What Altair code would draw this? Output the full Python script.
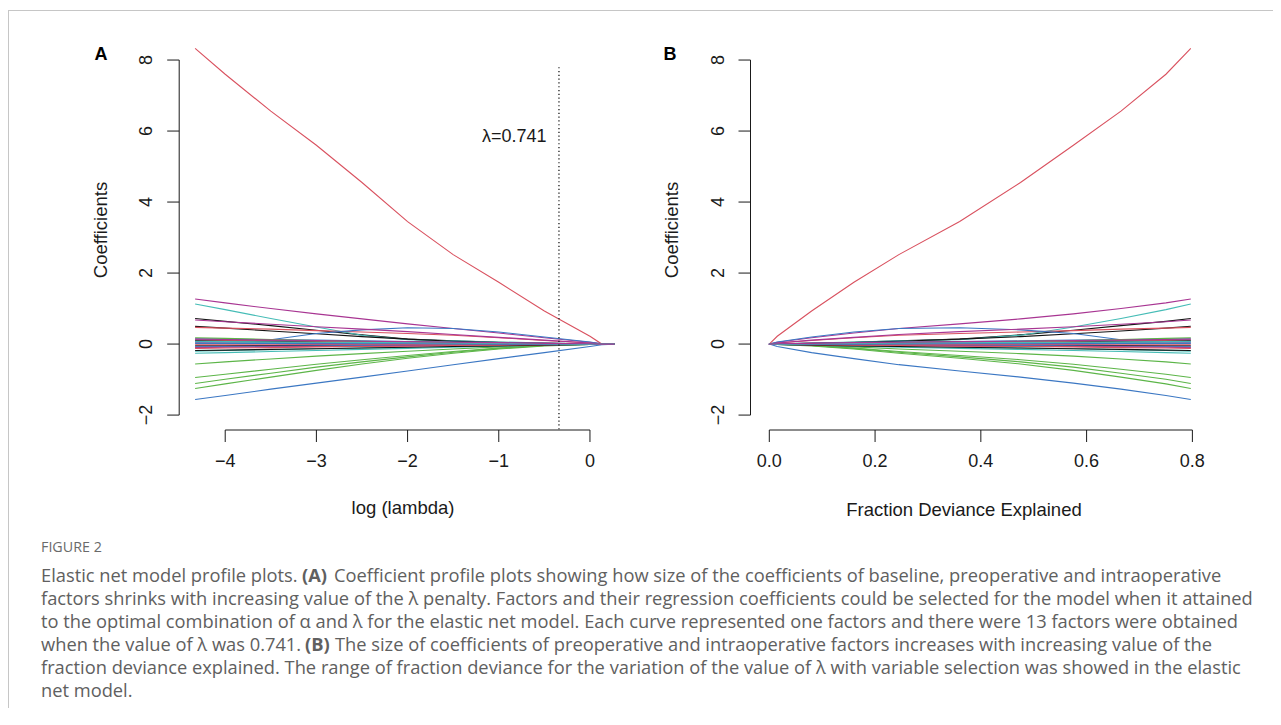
import altair as alt
import pandas as pd

# ---------------- data ----------------
log_lambda = [-4.33, -4.0, -3.5, -3.0, -2.5, -2.0, -1.5, -1.0, -0.5, 0.0, 0.13, 0.27]
dev_explained = [0.797, 0.75, 0.665, 0.575, 0.475, 0.36, 0.245, 0.16, 0.08, 0.015, 0.0, 0.0]

coef_01 = [0.72, 0.64, 0.52, 0.39, 0.26, 0.14, 0.09, 0.05, 0.02, 0.00, 0.0, 0.0]
coef_02 = [8.33, 7.60, 6.56, 5.60, 4.55, 3.45, 2.52, 1.74, 0.93, 0.22, 0.0, 0.0]
coef_03 = [-1.25, -1.12, -0.93, -0.74, -0.56, -0.40, -0.26, -0.14, -0.05, -0.01, 0.0, 0.0]
coef_04 = [-1.56, -1.45, -1.27, -1.10, -0.93, -0.76, -0.58, -0.41, -0.24, -0.07, -0.02, 0.0]
coef_05 = [1.13, 0.97, 0.72, 0.48, 0.25, 0.12, 0.09, 0.06, 0.03, 0.01, 0.0, 0.0]
coef_06 = [1.27, 1.16, 1.00, 0.85, 0.71, 0.57, 0.44, 0.31, 0.18, 0.05, 0.01, 0.0]
coef_07 = [0.50, 0.45, 0.37, 0.29, 0.21, 0.14, 0.08, 0.04, 0.01, 0.0, 0.0, 0.0]
coef_08 = [0.47, 0.45, 0.42, 0.38, 0.34, 0.30, 0.25, 0.18, 0.10, 0.03, 0.01, 0.0]
coef_09 = [-1.11, -0.99, -0.82, -0.65, -0.50, -0.36, -0.23, -0.12, -0.04, 0.0, 0.0, 0.0]
coef_10 = [0.07, 0.08, 0.12, 0.30, 0.40, 0.46, 0.44, 0.34, 0.20, 0.06, 0.01, 0.0]
coef_11 = [0.05, 0.05, 0.04, 0.04, 0.03, 0.03, 0.02, 0.01, 0.01, 0.0, 0.0, 0.0]
coef_12 = [0.68, 0.63, 0.56, 0.49, 0.42, 0.35, 0.27, 0.19, 0.11, 0.03, 0.01, 0.0]
coef_13 = [0.10, 0.09, 0.08, 0.07, 0.06, 0.05, 0.04, 0.03, 0.02, 0.01, 0.0, 0.0]
coef_14 = [0.12, 0.11, 0.10, 0.08, 0.07, 0.06, 0.04, 0.03, 0.02, 0.01, 0.0, 0.0]
coef_15 = [-0.94, -0.85, -0.71, -0.57, -0.44, -0.32, -0.21, -0.11, -0.04, 0.0, 0.0, 0.0]
coef_16 = [0.15, 0.14, 0.12, 0.11, 0.09, 0.07, 0.06, 0.04, 0.02, 0.01, 0.0, 0.0]
coef_17 = [-0.20, -0.18, -0.16, -0.13, -0.11, -0.09, -0.07, -0.05, -0.03, -0.01, 0.0, 0.0]
coef_18 = [0.03, 0.03, 0.02, 0.02, 0.02, 0.01, 0.01, 0.01, 0.0, 0.0, 0.0, 0.0]
coef_19 = [-0.05, -0.05, -0.04, -0.04, -0.03, -0.03, -0.02, -0.01, -0.01, 0.0, 0.0, 0.0]
coef_20 = [-0.02, -0.02, -0.02, -0.01, -0.01, -0.01, -0.01, 0.0, 0.0, 0.0, 0.0, 0.0]
coef_21 = [-0.56, -0.50, -0.42, -0.34, -0.27, -0.20, -0.14, -0.08, -0.03, 0.0, 0.0, 0.0]
coef_22 = [-0.08, -0.07, -0.06, -0.05, -0.04, -0.04, -0.03, -0.02, -0.01, 0.0, 0.0, 0.0]
coef_23 = [-0.26, -0.24, -0.21, -0.18, -0.15, -0.12, -0.09, -0.06, -0.03, -0.01, 0.0, 0.0]
coef_24 = [-0.10, -0.09, -0.08, -0.07, -0.06, -0.05, -0.04, -0.03, -0.02, 0.0, 0.0, 0.0]
coef_25 = [-0.18, -0.17, -0.15, -0.13, -0.11, -0.09, -0.07, -0.05, -0.03, -0.01, 0.0, 0.0]
coef_26 = [-0.12, -0.11, -0.10, -0.08, -0.07, -0.06, -0.04, -0.03, -0.02, -0.01, 0.0, 0.0]
coef_27 = [0.18, 0.16, 0.13, 0.10, 0.08, 0.06, 0.04, 0.02, 0.01, 0.0, 0.0, 0.0]
coef_28 = [0.02, 0.02, 0.02, 0.01, 0.01, 0.01, 0.01, 0.0, 0.0, 0.0, 0.0, 0.0]
coef_29 = [0.08, 0.07, 0.06, 0.05, 0.04, 0.04, 0.03, 0.02, 0.01, 0.0, 0.0, 0.0]
coef_30 = [0.14, 0.13, 0.11, 0.10, 0.08, 0.07, 0.05, 0.04, 0.02, 0.01, 0.0, 0.0]

coefs = [coef_01, coef_02, coef_03, coef_04, coef_05, coef_06, coef_07, coef_08, coef_09, coef_10,
         coef_11, coef_12, coef_13, coef_14, coef_15, coef_16, coef_17, coef_18, coef_19, coef_20,
         coef_21, coef_22, coef_23, coef_24, coef_25, coef_26, coef_27, coef_28, coef_29, coef_30]

palette = ["#141414", "#d9515f", "#5cb548", "#3b77c3", "#45bcb6", "#a83592"]
series = ["v%02d" % (i + 1) for i in range(len(coefs))]
series_colors = [palette[i % len(palette)] for i in range(len(coefs))]

x_ticks_a = [-4, -3, -2, -1, 0]
x_ticks_b = [0.0, 0.2, 0.4, 0.6, 0.8]
y_ticks = [-2, 0, 2, 4, 6, 8]

lambda_opt = 0.741
lambda_line_x = -0.34
lambda_line_top = 7.8
lambda_label_x = -0.83
lambda_label_y = 5.83

title_xa = "log (lambda)"
title_xb = "Fraction Deviance Explained"
title_y = "Coefficients"

caption_head = "FIGURE 2"
cap_1a = "Elastic net model profile plots."
cap_1b = "(A)"
cap_1c = "Coefficient profile plots showing how size of the coefficients of baseline, preoperative and intraoperative"
cap_2 = "factors shrinks with increasing value of the \u03bb penalty. Factors and their regression coefficients could be selected for the model when it attained"
cap_3 = "to the optimal combination of \u03b1 and \u03bb for the elastic net model. Each curve represented one factors and there were 13 factors were obtained"
cap_4a = "when the value of \u03bb was 0.741."
cap_4b = "(B)"
cap_4c = "The size of coefficients of preoperative and intraoperative factors increases with increasing value of the"
cap_5 = "fraction deviance explained. The range of fraction deviance for the variation of the value of \u03bb with variable selection was showed in the elastic"
cap_6 = "net model."

# ---------------- table ----------------
rows = []
for name, vals in zip(series, coefs):
    for L, d, c in zip(log_lambda, dev_explained, vals):
        rows.append({"series": name, "log_lambda": L, "dev": d, "coef": c})
df = pd.DataFrame(rows)

# ---------------- layout constants (svg pixels) ----------------
W, H = 1265, 700
FONT = "Liberation Sans"
INK = "#1a1a1a"
CAP_FONT = "Open Sans"
CAP_COLOR = "#606060"
X_AXIS_Y = 422
YA_AXIS_X = 171.2
YB_AXIS_X = 742.5
TICK = 12

xa_scale = alt.Scale(domain=[-4.51, 0.45], range=[170.7, 623.0], nice=False, zero=False)
xb_scale = alt.Scale(domain=[-0.0365, 0.832], range=[742.0, 1201.3], nice=False, zero=False)
y_scale = alt.Scale(domain=[-2.42, 8.77], range=[422.0, 24.7], nice=False, zero=False)

color_enc = alt.Color("series:N", scale=alt.Scale(domain=series, range=series_colors), legend=None)
one = pd.DataFrame({"k": [0]})


def txt(text, x, y, font=FONT, size=18, color=INK, weight="normal", align="center", angle=0):
    return alt.Chart(one).mark_text(text=text, font=font, fontSize=size, color=color,
                                    fontWeight=weight, align=align, baseline="middle",
                                    angle=angle).encode(x=alt.value(x), y=alt.value(y))


def x_axis_layers(ticks, scale, fmt):
    tdf = pd.DataFrame({"t": ticks})
    span = pd.DataFrame({"lo": [min(ticks)], "hi": [max(ticks)]})
    dom = alt.Chart(span).mark_rule(color=INK, strokeWidth=1).encode(
        x=alt.X("lo:Q", scale=scale, axis=None), x2="hi:Q", y=alt.value(X_AXIS_Y))
    tk = alt.Chart(tdf).mark_rule(color=INK, strokeWidth=1).encode(
        x=alt.X("t:Q", scale=scale, axis=None), y=alt.value(X_AXIS_Y), y2=alt.value(X_AXIS_Y + TICK))
    lb = alt.Chart(tdf).mark_text(font=FONT, fontSize=18, color=INK, align="center",
                                  baseline="middle").encode(
        x=alt.X("t:Q", scale=scale, axis=None), y=alt.value(X_AXIS_Y + 32),
        text=alt.Text("t:Q", format=fmt))
    return [dom, tk, lb]


def y_axis_layers(axis_x):
    tdf = pd.DataFrame({"t": y_ticks})
    span = pd.DataFrame({"lo": [min(y_ticks)], "hi": [max(y_ticks)]})
    dom = alt.Chart(span).mark_rule(color=INK, strokeWidth=1).encode(
        y=alt.Y("lo:Q", scale=y_scale, axis=None), y2="hi:Q", x=alt.value(axis_x))
    tk = alt.Chart(tdf).mark_rule(color=INK, strokeWidth=1).encode(
        y=alt.Y("t:Q", scale=y_scale, axis=None), x=alt.value(axis_x - TICK), x2=alt.value(axis_x))
    lb = alt.Chart(tdf).mark_text(font=FONT, fontSize=18, color=INK, align="center",
                                  baseline="middle", angle=270).encode(
        y=alt.Y("t:Q", scale=y_scale, axis=None), x=alt.value(axis_x - 32),
        text=alt.Text("t:Q", format="d"))
    return [dom, tk, lb]


# ---------------- panel A ----------------
lines_a = alt.Chart(df).mark_line(strokeWidth=1.1).encode(
    x=alt.X("log_lambda:Q", scale=xa_scale, axis=None),
    y=alt.Y("coef:Q", scale=y_scale, axis=None),
    color=color_enc,
)
dotted = alt.Chart(pd.DataFrame({"x": [lambda_line_x], "top": [lambda_line_top]})).mark_rule(
    color=INK, strokeWidth=1.3, strokeDash=[1.2, 2.6]).encode(
    x=alt.X("x:Q", scale=xa_scale, axis=None),
    y=alt.Y("top:Q", scale=y_scale, axis=None), y2=alt.value(X_AXIS_Y))
lam_text = alt.Chart(pd.DataFrame({"x": [lambda_label_x], "y": [lambda_label_y],
                                   "t": ["\u03bb=%s" % lambda_opt]})).mark_text(
    font=FONT, fontSize=18, color=INK, align="center", baseline="middle").encode(
    x=alt.X("x:Q", scale=xa_scale, axis=None), y=alt.Y("y:Q", scale=y_scale, axis=None), text="t:N")

panel_a = alt.layer(lines_a, dotted, lam_text,
                    *x_axis_layers(x_ticks_a, xa_scale, "d"), *y_axis_layers(YA_AXIS_X))

# ---------------- panel B ----------------
lines_b = alt.Chart(df).mark_line(strokeWidth=1.1).encode(
    x=alt.X("dev:Q", scale=xb_scale, axis=None),
    y=alt.Y("coef:Q", scale=y_scale, axis=None),
    color=color_enc,
)
panel_b = alt.layer(lines_b, *x_axis_layers(x_ticks_b, xb_scale, ".1f"), *y_axis_layers(YB_AXIS_X))

# ---------------- titles, decorations & caption ----------------
titles = [
    txt(title_xa, 395, 500, size=18.5),
    txt(title_xb, 956, 502, size=18.5),
    txt(title_y, 93, 222, size=18.5, angle=270),
    txt(title_y, 664, 222, size=18.5, angle=270),
    txt("A", 93, 47, color="#000000", weight="bold"),
    txt("B", 662, 47, color="#000000", weight="bold"),
]

frame_top = alt.Chart(one).mark_rule(color="#c6c6c6", strokeWidth=1).encode(
    x=alt.value(0), x2=alt.value(W), y=alt.value(2.5))
frame_left = alt.Chart(one).mark_rule(color="#c6c6c6", strokeWidth=1).encode(
    x=alt.value(0.5), y=alt.value(2.5), y2=alt.value(H))

CS = 18.3
CW = 400
caps = [
    txt(caption_head, 33, 540, font=CAP_FONT, size=14.3, color="#6a6a6a", weight=500, align="left"),
    txt(cap_1a, 33, 569, font=CAP_FONT, size=CS, color=CAP_COLOR, weight=CW, align="left"),
    txt(cap_1b, 294, 569, font=CAP_FONT, size=CS, color=CAP_COLOR, weight="bold", align="left"),
    txt(cap_1c, 326, 569, font=CAP_FONT, size=CS, color=CAP_COLOR, weight=CW, align="left"),
    txt(cap_2, 33, 592, font=CAP_FONT, size=CS, color=CAP_COLOR, weight=CW, align="left"),
    txt(cap_3, 33, 615, font=CAP_FONT, size=CS, color=CAP_COLOR, weight=CW, align="left"),
    txt(cap_4a, 33, 638, font=CAP_FONT, size=CS, color=CAP_COLOR, weight=CW, align="left"),
    txt(cap_4b, 297, 638, font=CAP_FONT, size=CS, color=CAP_COLOR, weight="bold", align="left"),
    txt(cap_4c, 327, 638, font=CAP_FONT, size=CS, color=CAP_COLOR, weight=CW, align="left"),
    txt(cap_5, 33, 661, font=CAP_FONT, size=CS, color=CAP_COLOR, weight=CW, align="left"),
    txt(cap_6, 33, 684, font=CAP_FONT, size=CS, color=CAP_COLOR, weight=CW, align="left"),
]

chart = alt.layer(panel_a, panel_b, *titles, frame_top, frame_left, *caps).resolve_scale(
    x="independent", y="independent"
).properties(
    width=W, height=H, autosize=alt.AutoSizeParams(type="none"), padding=0, background="white"
).configure_view(stroke="transparent")

chart.save("out.html", embed_options={"renderer": "svg", "actions": False})
